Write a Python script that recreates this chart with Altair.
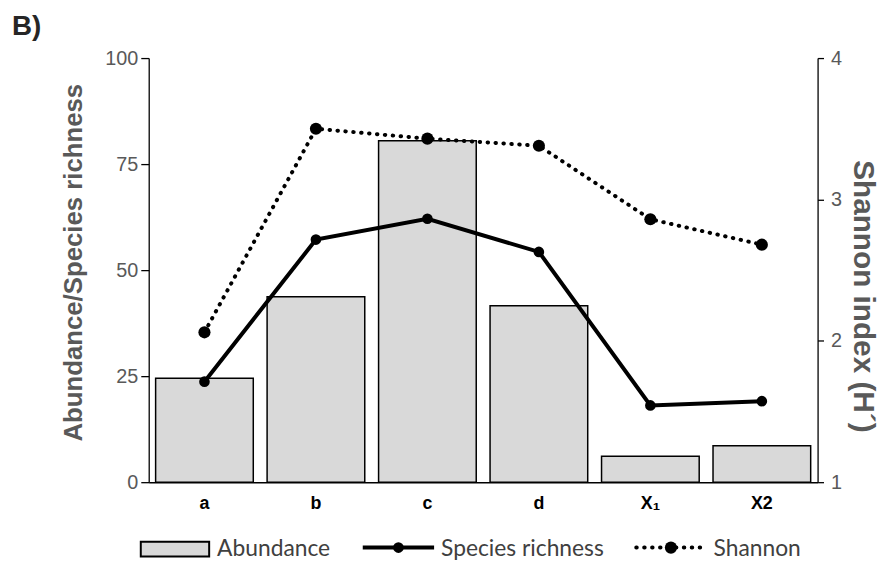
import altair as alt
import pandas as pd

# ---- data ----
sites = ["a", "b", "c", "d", "X₁", "X2"]
abundance = [24.5, 43.7, 80.5, 41.6, 6.1, 8.6]
richness = [23.7, 57.2, 62.1, 54.3, 18.1, 19.1]
shannon = [2.06, 3.50, 3.43, 3.38, 2.86, 2.68]

left_ticks = [0, 25, 50, 75, 100]
right_ticks = [1, 2, 3, 4]

df = pd.DataFrame({"site": sites, "abundance": abundance,
                   "richness": richness, "shannon": shannon})
one = pd.DataFrame({"k": [0]})

FONT = "Liberation Sans"
LFONT = "Lato"
GRAY = "#595959"
W, H = 675, 428

xenc = alt.X("site:N", sort=sites,
             scale=alt.Scale(paddingInner=0.124, paddingOuter=0.062),
             axis=alt.Axis(title=None, labelAngle=0, labelFont=FONT, labelFontSize=18,
                           labelFontWeight="bold", labelColor="black", ticks=False,
                           domainColor="black", domainWidth=1.5, labelPadding=13,
                           labelBaseline="top"))

lscale = alt.Scale(domain=[0, 100], nice=False, zero=True)
rscale = alt.Scale(domain=[1, 4], nice=False, zero=False)

left_axis = alt.Axis(values=left_ticks, title="Abundance/Species richness", orient="left",
                     grid=False, domainColor="black", domainWidth=1.3, tickColor="black",
                     tickSize=8, tickWidth=1.3, labelFont=FONT, labelFontSize=20,
                     labelColor=GRAY, labelPadding=3, titleFont=FONT, titleFontSize=26,
                     titleFontWeight="bold", titleColor=GRAY, titlePadding=18,
                     titleY=206)
right_axis = alt.Axis(values=right_ticks, title="Shannon index (H´)", orient="right",
                      grid=False, domainColor="black", domainWidth=1.3, tickColor="black",
                      tickSize=6, tickWidth=1.3, labelFont=FONT, labelFontSize=20,
                      labelColor=GRAY, labelPadding=7, titleFont=FONT, titleFontSize=30,
                      titleFontWeight="bold", titleColor=GRAY, titlePadding=6,
                      titleY=240)

base = alt.Chart(df)
bars = base.mark_bar(fill="#d9d9d9", stroke="black", strokeWidth=1.5).encode(
    x=xenc, y=alt.Y("abundance:Q", scale=lscale, axis=left_axis))
rich_line = base.mark_line(color="black", strokeWidth=4).encode(
    x=xenc, y=alt.Y("richness:Q", scale=lscale, axis=None))
rich_pts = base.mark_circle(color="black", opacity=1, size=115).encode(
    x=xenc, y=alt.Y("richness:Q", scale=lscale, axis=None))
sh_line = base.mark_line(color="black", strokeWidth=4, strokeDash=[0.5, 7.5],
                         strokeCap="round").encode(
    x=xenc, y=alt.Y("shannon:Q", scale=rscale, axis=right_axis))
sh_pts = base.mark_circle(color="black", opacity=1, size=150).encode(
    x=xenc, y=alt.Y("shannon:Q", scale=rscale, axis=None))

# ---- manual legend (below the plot) ----
lg = alt.Chart(one)
leg_rect = lg.mark_rect(fill="#d9d9d9", stroke="black", strokeWidth=2).encode(
    x=alt.value(-8), x2=alt.value(61), y=alt.value(488), y2=alt.value(503))
leg_t1 = lg.mark_text(text="Abundance", align="left", baseline="middle", font=LFONT,
                      fontSize=23, color="#404040").encode(x=alt.value(69), y=alt.value(495))
leg_l2 = lg.mark_rule(color="black", strokeWidth=4).encode(
    x=alt.value(216), x2=alt.value(288), y=alt.value(494))
leg_p2 = lg.mark_circle(color="black", opacity=1, size=115).encode(
    x=alt.value(252), y=alt.value(494))
leg_t2 = lg.mark_text(text="Species richness", align="left", baseline="middle", font=LFONT,
                      fontSize=23, color="#404040").encode(x=alt.value(295), y=alt.value(495))
leg_l3 = lg.mark_rule(color="black", strokeWidth=4, strokeDash=[0.5, 7.5],
                      strokeCap="round").encode(
    x=alt.value(492), x2=alt.value(563), y=alt.value(494))
leg_p3 = lg.mark_circle(color="black", opacity=1, size=150).encode(
    x=alt.value(527), y=alt.value(494))
leg_t3 = lg.mark_text(text="Shannon", align="left", baseline="middle", font=LFONT,
                      fontSize=23, color="#404040").encode(x=alt.value(570), y=alt.value(495))

chart = alt.layer(
    bars, rich_line, rich_pts, sh_line, sh_pts,
    leg_rect, leg_t1, leg_l2, leg_p2, leg_t2, leg_l3, leg_p3, leg_t3
).resolve_scale(y="independent").properties(
    width=W, height=H,
    title=alt.TitleParams("B)", anchor="start", frame="group", font=FONT, fontSize=28,
                          fontWeight="bold", color="#262626", dx=-138, offset=7),
    autosize=alt.AutoSizeParams(type="none"),
    padding={"left": 142, "top": 48, "right": 65, "bottom": 76},
).configure_view(stroke=None)

chart.save("out.html", embed_options={"renderer": "svg", "actions": False})
